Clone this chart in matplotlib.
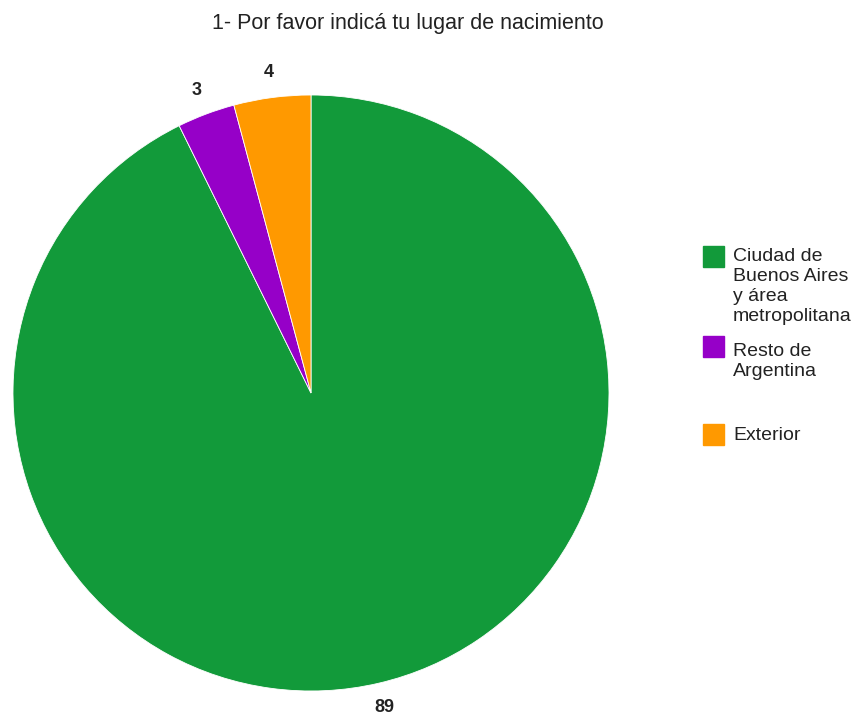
import numpy as np
import matplotlib.pyplot as plt

plt.rcParams['font.family'] = ['Liberation Sans', 'DejaVu Sans']

title = '1- Por favor indicá tu lugar de nacimiento'
categories = ['Ciudad de\nBuenos Aires\ny área\nmetropolitana', 'Resto de\nArgentina', 'Exterior']
values = [89, 3, 4]
colors = ['#129a3a', '#9600c8', '#ff9900']

fig = plt.figure(figsize=(8.55, 7.17), dpi=100)
# pie area: centre (311, 393) px, radius 298 px
ax = fig.add_axes([13 / 855, (717 - 393 - 298) / 717, 596 / 855, 596 / 717])
wedges, _ = ax.pie(values, colors=colors, startangle=90, counterclock=False,
                   radius=1, wedgeprops=dict(linewidth=0.6, edgecolor='white'))
ax.set_xlim(-1, 1)
ax.set_ylim(-1, 1)
ax.set_aspect('equal')
ax.axis('off')

# value labels just outside each slice, at the slice's mid angle
for w, v in zip(wedges, values):
    ang = np.deg2rad((w.theta1 + w.theta2) / 2)
    r = 1.085
    ax.text(r * np.cos(ang), r * np.sin(ang), str(v), ha='center', va='center',
            fontsize=13, fontweight='bold', color='#222222', clip_on=False)

fig.text(408 / 855, 1 - 23 / 717, title, ha='center', va='center', fontsize=15.5, color='#222222')

# legend: square + wrapped label (pixel rows of square centre / first text line)
sq = 21
sq_y = [256, 346, 434]
txt_y = [257, 352, 436]
for c, lab, ys, yt in zip(colors, categories, sq_y, txt_y):
    fig.patches.append(plt.Rectangle((703 / 855, 1 - (ys + sq / 2) / 717), sq / 855, sq / 717,
                                     transform=fig.transFigure, color=c))
    fig.text(733 / 855, 1 - (yt - 9) / 717, lab, ha='left', va='top', fontsize=14,
             color='#222222', linespacing=1.22)

fig.savefig('out.png', dpi=100, facecolor='white')
